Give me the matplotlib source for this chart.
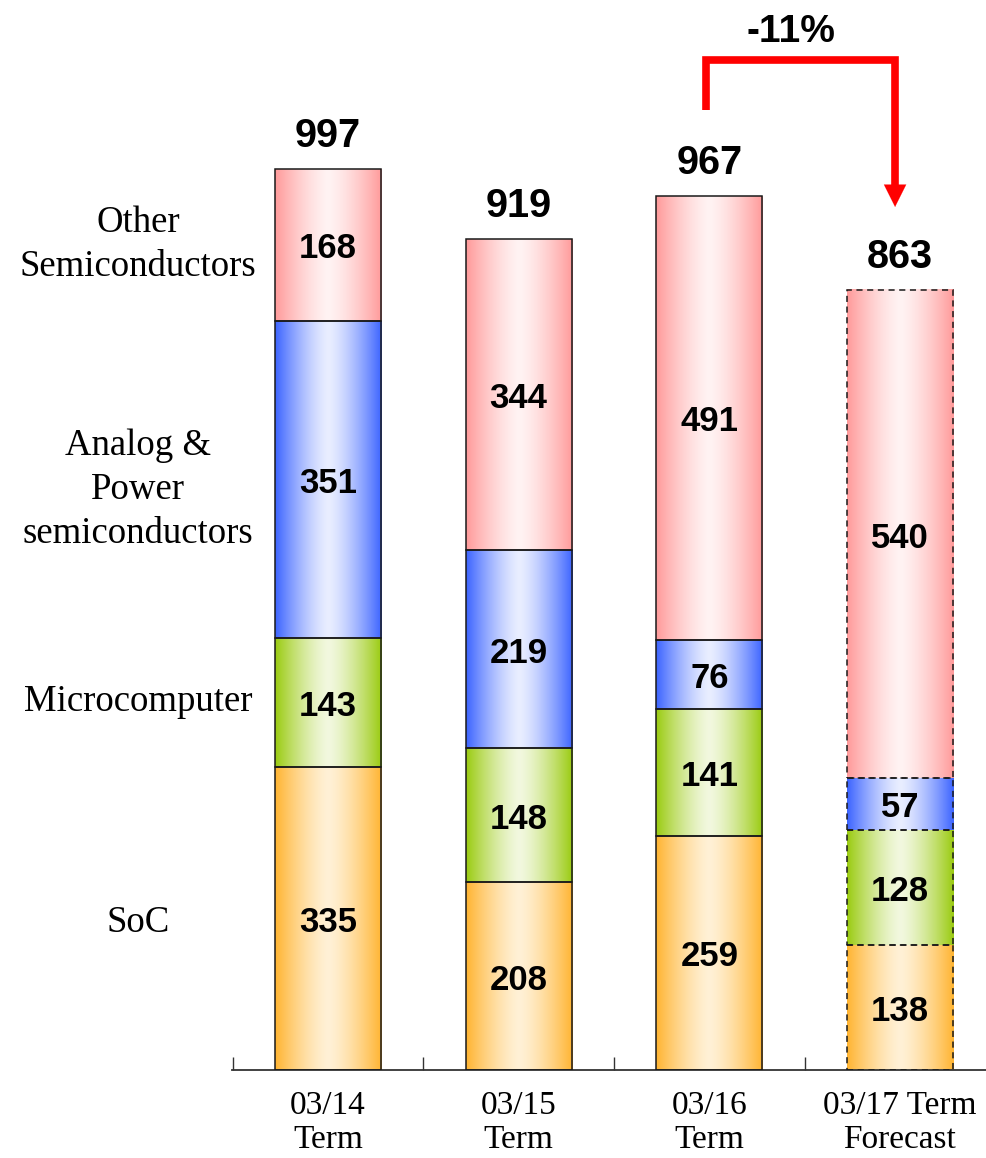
import numpy as np
import matplotlib
matplotlib.use("Agg")
import matplotlib.pyplot as plt
from matplotlib.patches import Rectangle
from matplotlib.colors import to_rgb

# ---- data -------------------------------------------------------------
periods = ["03/14\nTerm", "03/15\nTerm", "03/16\nTerm", "03/17 Term\nForecast"]
soc = [335, 208, 259, 138]
microcomputer = [143, 148, 141, 128]
analog_power = [351, 219, 76, 57]
other_semis = [168, 344, 491, 540]

series_names = ["SoC", "Microcomputer", "Analog &\nPower\nsemiconductors",
                "Other\nSemiconductors"]
series_values = [soc, microcomputer, analog_power, other_semis]
forecast_flags = [False, False, False, True]

# edge / centre colours of the horizontal shading for each segment type
edge_colors = ["#FFB431", "#9ACB10", "#3C64FF", "#FF9A9A"]
center_colors = ["#FFF1D6", "#F2F8DF", "#E9EEFF", "#FFF3F3"]
# downward nudge (pixels) of the series names beside the first bar
name_nudge_px = [4, -1, 10, 0]

# ---- figure -----------------------------------------------------------
W, H = 987, 1158
fig = plt.figure(figsize=(W / 100, H / 100), dpi=100)
base_px = 1070
ax_left_px = 232
ax = fig.add_axes([ax_left_px / W, (H - base_px) / H,
                   (W - ax_left_px) / W, base_px / H])

slot_px = 190.7
x_lo = -0.503
x_hi = x_lo + (W - ax_left_px) / slot_px
units_per_px = 997 / 901
ax.set_xlim(x_lo, x_hi)
ax.set_ylim(0, base_px * units_per_px)

bar_w = 0.556
x = np.arange(len(periods))


def shade(c_edge, c_mid, n=256):
    t = np.abs(np.linspace(-1, 1, n))
    t = t ** 1.4
    e = np.array(to_rgb(c_edge))
    m = np.array(to_rgb(c_mid))
    row = m[None, :] + (e - m)[None, :] * t[:, None]
    return row[None, :, :]


num_font = dict(family="Liberation Sans", fontweight="bold", color="black")
serif_font = dict(family="Liberation Serif", color="black")

bottoms = np.zeros(len(periods))
for k, vals in enumerate(series_values):
    grad = shade(edge_colors[k], center_colors[k])
    for i, v in enumerate(vals):
        x0 = x[i] - bar_w / 2
        y0 = bottoms[i]
        ax.imshow(grad, extent=(x0, x0 + bar_w, y0, y0 + v),
                  aspect="auto", interpolation="bilinear", zorder=2)
        ls = (0, (4, 3)) if forecast_flags[i] else "solid"
        ax.add_patch(Rectangle((x0, y0), bar_w, v, facecolor="none",
                               edgecolor="#1a1a1a", linewidth=1.1,
                               linestyle=ls, zorder=3))
        ax.text(x[i], y0 + v / 2 - 4 * units_per_px, str(v), ha="center",
                va="center", fontsize=25, zorder=4, **num_font)
    bottoms += np.array(vals)

totals = bottoms.astype(int)
for i, t in enumerate(totals):
    ax.annotate(str(t), (x[i], t), xytext=(0, 16), textcoords="offset points",
                ha="center", va="baseline", fontsize=28.5, **num_font)

# series names next to the first bar
cum = 0
for name, vals, dpx in zip(series_names, series_values, name_nudge_px):
    mid = cum + vals[0] / 2
    cum += vals[0]
    ax.text(-0.995, mid - dpx * units_per_px, name, ha="center", va="center",
            fontsize=26.5, linespacing=1.36, clip_on=False, **serif_font)

# period labels under the axis
for i, lab in enumerate(periods):
    ax.text(x[i], -0.019, lab, transform=ax.get_xaxis_transform(),
            ha="center", va="top", fontsize=24, linespacing=1.15,
            clip_on=False, **serif_font)

# change arrow from the last actual term to the forecast
change = totals[3] / totals[2] - 1
y_top = 1118
y_start = totals[2] + 95
y_tip = totals[3] + 92
x_a = x[2] - 0.016
x_b = x[3] - 0.026
ax.plot([x_a, x_a, x_b, x_b], [y_start, y_top, y_top, y_tip + 20],
        color="#FF0000", lw=5.5, solid_joinstyle="miter",
        solid_capstyle="butt", clip_on=False, zorder=5)
ax.annotate("", xy=(x_b, y_tip), xytext=(x_b, y_tip + 24),
            arrowprops=dict(arrowstyle="-|>,head_length=1.6,head_width=0.8",
                            color="#FF0000", lw=0.1, shrinkA=0, shrinkB=0),
            zorder=6)
ax.text((x_a + x_b) / 2 - 0.05, 1149, f"-{abs(change) * 100:.0f}%",
        ha="center", va="center", fontsize=28, **num_font)

# axis styling
for s in ["left", "right", "top"]:
    ax.spines[s].set_visible(False)
ax.spines["bottom"].set_linewidth(1.3)
ax.spines["bottom"].set_color("#333333")
ax.set_yticks([])
ax.set_xticks([-0.5, 0.5, 1.5, 2.5])
ax.set_xticklabels([])
ax.tick_params(axis="x", direction="in", length=9.5, width=1, color="#333333")
ax.set_facecolor("none")

fig.savefig("out.png", dpi=100, facecolor="white")
